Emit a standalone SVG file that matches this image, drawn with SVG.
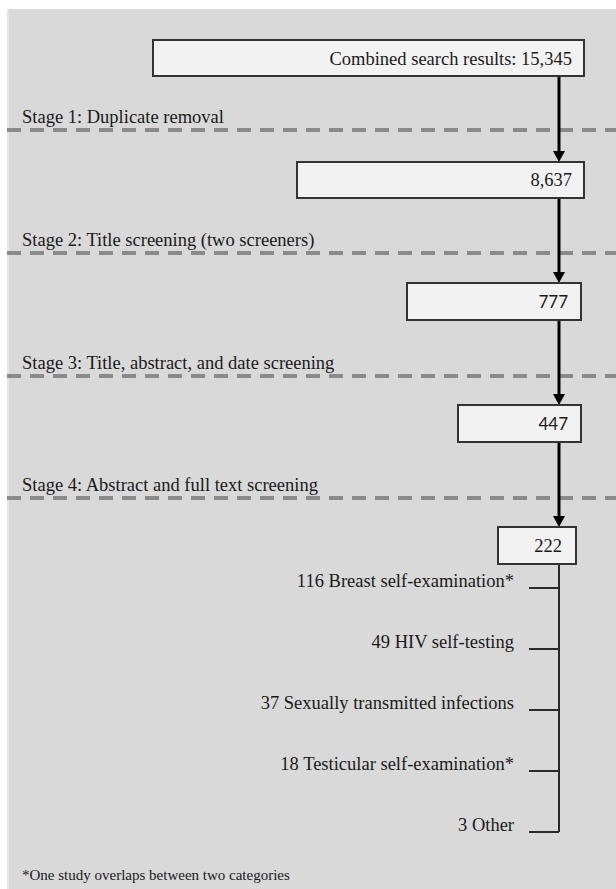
<svg xmlns="http://www.w3.org/2000/svg" width="616" height="889" viewBox="0 0 616 889">
<style>
.t{font-family:"Liberation Serif","Times New Roman",serif;font-size:18.5px;fill:#1a1a1a}
.s{font-family:Lato,"Liberation Sans",sans-serif;font-size:17px;fill:#1a1a1a}
.box{fill:#f2f2f2;stroke:#333;stroke-width:2}
.dash{stroke:#8a8a8a;stroke-width:4;stroke-dasharray:14 9;fill:none}
.arr{stroke:#000;stroke-width:3;fill:none}
.br{stroke:#2a2a2a;stroke-width:2;fill:none}
</style>
<defs>
<marker id="ah" markerUnits="userSpaceOnUse" markerWidth="12" markerHeight="12" viewBox="0 0 12 12" refX="6" refY="11" orient="auto-start-reverse">
<path d="M0,0 L12,0 L6,11 Z" fill="#000" transform="rotate(0)"/>
</marker>
</defs>
<rect x="0" y="0" width="616" height="889" fill="#ffffff"/>
<rect x="7" y="9" width="609" height="880" fill="#d9d9d9"/>
<rect x="7" y="9" width="2" height="880" fill="#e6e6e6"/>
<g id="stages">
<line class="dash" x1="7" y1="130" x2="616" y2="130"/>
<line class="dash" x1="7" y1="253" x2="616" y2="253"/>
<line class="dash" x1="7" y1="376" x2="616" y2="376"/>
<line class="dash" x1="7" y1="498" x2="616" y2="498"/>
<text class="t" x="22" y="123">Stage 1: Duplicate removal</text>
<text class="t" x="22" y="246">Stage 2: Title screening (two screeners)</text>
<text class="t" x="22" y="369">Stage 3: Title, abstract, and date screening</text>
<text class="t" x="22" y="491">Stage 4: Abstract and full text screening</text>
</g>
<g id="connectors">
<path class="arr" d="M559,76 V151"/>
<path d="M553,151 L565,151 L559,162 Z" fill="#000"/>
<path class="arr" d="M559,198 V272"/>
<path d="M553,272 L565,272 L559,283 Z" fill="#000"/>
<path class="arr" d="M559,320 V394"/>
<path d="M553,394 L565,394 L559,405 Z" fill="#000"/>
<path class="arr" d="M559,442 V516"/>
<path d="M553,516 L565,516 L559,527 Z" fill="#000"/>
<path class="br" d="M559,564 V832"/>
<path class="br" d="M529,588 H559 M529,649 H559 M529,710 H559 M529,771 H559 M529,832 H559"/>
</g>
<g id="n1"><rect class="box" x="153" y="40" width="431" height="36"/><text class="t" x="572" y="64.5" text-anchor="end">Combined search results: 15,345</text></g>
<g id="n2"><rect class="box" x="297" y="162" width="287" height="36"/><text class="t" x="572" y="185.5" text-anchor="end">8,637</text></g>
<g id="n3"><rect class="box" x="407" y="283" width="174" height="37"/><text class="s" x="568" y="308" text-anchor="end">777</text></g>
<g id="n4"><rect class="box" x="458" y="405" width="123" height="37"/><text class="s" x="568" y="430" text-anchor="end">447</text></g>
<g id="n5"><rect class="box" x="498" y="527" width="78" height="37"/><text class="t" x="562" y="552" text-anchor="end">222</text></g>
<g id="categories">
<text class="t" x="514" y="587" text-anchor="end">116 Breast self-examination*</text>
<text class="t" x="514" y="648" text-anchor="end">49 HIV self-testing</text>
<text class="t" x="514" y="709" text-anchor="end">37 Sexually transmitted infections</text>
<text class="t" x="514" y="770" text-anchor="end">18 Testicular self-examination*</text>
<text class="t" x="514" y="831" text-anchor="end">3 Other</text>
</g>
<text class="t" x="22" y="880" style="font-size:15px">*One study overlaps between two categories</text>
</svg>
